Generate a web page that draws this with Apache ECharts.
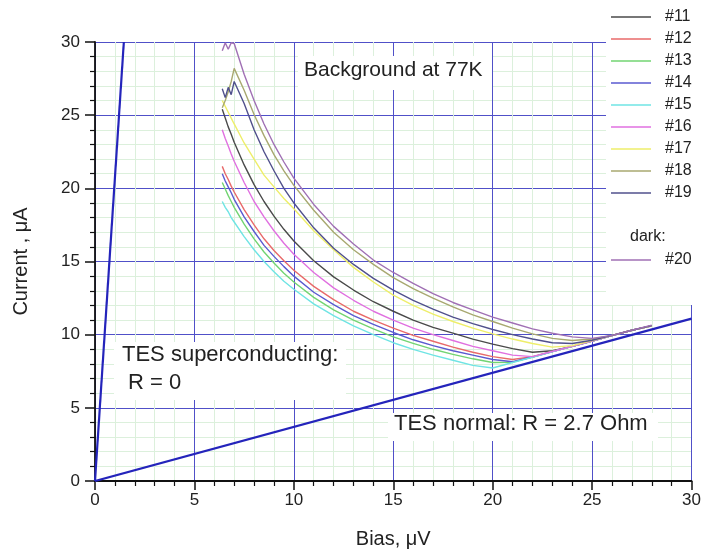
<!DOCTYPE html>
<html>
<head>
<meta charset="utf-8">
<script src="https://cdn.jsdelivr.net/npm/echarts@6/dist/echarts.min.js"></script>
<style>
html,body{margin:0;padding:0;background:#fff;}
#chart{width:704px;height:554px;}
</style>
</head>
<body>
<div id="chart"></div>
<script>
// Bias values (µV) shared by all measured curves
var bias = [6.4, 6.55, 6.7, 6.85, 7.0, 7.5, 8, 8.5, 9, 9.5, 10, 11, 12, 13, 14, 15, 16, 17, 18, 19, 20, 21, 22, 23, 24, 25, 26, 27, 28];

// Current values (µA) per detector
var s11 = [25.4, 24.8, 24.2, 23.7, 23.15, 21.6, 20.25, 19.1, 18.1, 17.2, 16.4, 15.05, 13.95, 13.05, 12.25, 11.6, 11.0, 10.5, 10.1, 9.7, 9.35, 9.05, 8.8, 8.9, 9.2, 9.57, 9.93, 10.3, 10.6];
var s12 = [21.5, 21.0, 20.6, 20.15, 19.75, 18.55, 17.5, 16.55, 15.75, 15.05, 14.4, 13.3, 12.4, 11.6, 11.0, 10.45, 9.95, 9.55, 9.15, 8.8, 8.5, 8.3, 8.5, 8.85, 9.2, 9.57, 9.93, 10.3, 10.6];
var s13 = [20.4, 19.95, 19.5, 19.1, 18.7, 17.55, 16.55, 15.65, 14.9, 14.2, 13.6, 12.55, 11.7, 11.0, 10.4, 9.85, 9.4, 9.0, 8.65, 8.35, 8.1, 8.12, 8.47, 8.84, 9.2, 9.57, 9.93, 10.3, 10.6];
var s14 = [21.0, 20.5, 20.1, 19.7, 19.25, 18.05, 17.05, 16.1, 15.35, 14.65, 14.0, 12.9, 12.05, 11.3, 10.7, 10.15, 9.65, 9.25, 8.9, 8.6, 8.3, 8.15, 8.47, 8.84, 9.2, 9.57, 9.93, 10.3, 10.6];
var s15 = [19.1, 18.7, 18.4, 18.0, 17.7, 16.7, 15.8, 15.0, 14.3, 13.65, 13.1, 12.1, 11.3, 10.6, 10.0, 9.45, 9.0, 8.6, 8.25, 7.9, 7.72, 8.1, 8.46, 8.83, 9.2, 9.57, 9.93, 10.3, 10.6];
var s16 = [24.0, 23.4, 22.9, 22.35, 21.85, 20.4, 19.1, 18.05, 17.1, 16.25, 15.5, 14.25, 13.2, 12.35, 11.6, 11.0, 10.45, 10.0, 9.6, 9.2, 8.9, 8.6, 8.5, 8.85, 9.2, 9.57, 9.93, 10.3, 10.6];
var s17 = [26.0, 25.6, 25.2, 24.8, 24.4, 23.1, 22.0, 20.9, 20.1, 19.3, 18.6, 17.1, 15.8, 14.6, 13.6, 12.7, 12.0, 11.4, 10.9, 10.45, 10.05, 9.7, 9.4, 9.15, 9.25, 9.6, 9.95, 10.3, 10.6];
var s18 = [25.5, 26.0, 26.6, 27.3, 28.2, 26.7, 25.05, 23.6, 22.3, 21.2, 20.2, 18.5, 17.0, 15.8, 14.8, 13.9, 13.15, 12.5, 11.9, 11.35, 10.9, 10.45, 10.05, 9.75, 9.6, 9.7, 9.95, 10.3, 10.62];
var s19 = [26.8, 26.2, 26.9, 26.4, 27.3, 25.8, 24.0, 22.5, 21.2, 20.0, 19.0, 17.3, 15.9, 14.8, 13.85, 13.05, 12.35, 11.75, 11.2, 10.75, 10.35, 10.0, 9.7, 9.45, 9.4, 9.62, 9.95, 10.3, 10.62];
var s20 = [29.4, 29.95, 29.5, 29.95, 29.9, 27.8, 26.0, 24.4, 23.0, 21.8, 20.7, 18.9, 17.4, 16.2, 15.1, 14.25, 13.5, 12.8, 12.2, 11.7, 11.2, 10.8, 10.4, 10.1, 9.85, 9.75, 9.95, 10.3, 10.65];

var names = ['#11', '#12', '#13', '#14', '#15', '#16', '#17', '#18', '#19', '#20'];
var colors = ['#4a4a4a', '#e86a6a', '#72d472', '#5a5ad0', '#6fe4e4', '#e070e0', '#eeee6a', '#a8a870', '#50508c', '#a070b4'];

// Reference lines (Bias µV, Current µA)
var superLine = [[0, 0], [1.45, 30]];
var normalLine = [[0, 0], [30, 11.1]];

// Axis ticks
var xTicks = [0, 5, 10, 15, 20, 25, 30];
var yTicks = [0, 5, 10, 15, 20, 25, 30];

var allData = [s11, s12, s13, s14, s15, s16, s17, s18, s19, s20];

function pairs(ys) {
  return bias.map(function (v, i) { return [v, ys[i]]; });
}

var FONT = 'Liberation Sans, Arial, sans-serif';
var series = [];
series.push({
  type: 'line', data: superLine, symbol: 'none', silent: true, z: 3,
  lineStyle: { color: '#2424bb', width: 2.2 }
});
series.push({
  type: 'line', data: normalLine, symbol: 'none', silent: true, z: 3,
  lineStyle: { color: '#2424bb', width: 2.2 }
});
for (var i = 0; i < names.length; i++) {
  series.push({
    name: names[i], type: 'line', data: pairs(allData[i]), symbol: 'none', showSymbol: false,
    color: colors[i], lineStyle: { color: colors[i], width: 1.4 }, z: 2
  });
}

var legendCommon = {
  orient: 'vertical', left: 611, icon: 'rect',
  itemWidth: 40, itemHeight: 1.6, itemGap: 6, padding: 0, z: 6,
  textStyle: { fontSize: 16, color: '#222', fontFamily: FONT, lineHeight: 16, padding: [0, 0, 0, 9] },
  selectedMode: false
};

var chart = echarts.init(document.getElementById('chart'), null, { renderer: 'canvas' });
chart.setOption({
  animation: false,
  backgroundColor: '#fff',
  grid: { left: 95, right: 9, top: 42, bottom: 71 },
  xAxis: {
    type: 'value', min: xTicks[0], max: xTicks[xTicks.length - 1], interval: 5,
    name: 'Bias, μV', nameLocation: 'middle', nameGap: 48,
    nameTextStyle: { fontSize: 20, color: '#222', fontFamily: FONT },
    axisLine: { show: true, onZero: false, lineStyle: { color: '#111', width: 1.8 } },
    axisTick: { show: true, inside: false, length: 9, lineStyle: { color: '#111', width: 1.5 } },
    minorTick: { show: true, splitNumber: 5, length: 5, lineStyle: { color: '#111', width: 1.2 } },
    axisLabel: { fontSize: 17, color: '#222', margin: 11, fontFamily: FONT },
    splitLine: { show: true, lineStyle: { color: '#5050c8', width: 1 } },
    minorSplitLine: { show: true, lineStyle: { color: '#dcf0dc', width: 1 } }
  },
  yAxis: {
    type: 'value', min: yTicks[0], max: yTicks[yTicks.length - 1], interval: 5,
    name: 'Current , μA', nameLocation: 'middle', nameGap: 64, nameRotate: 90,
    nameTextStyle: { fontSize: 20, color: '#222', fontFamily: FONT },
    axisLine: { show: true, onZero: false, lineStyle: { color: '#111', width: 1.8 } },
    axisTick: { show: true, inside: false, length: 10, lineStyle: { color: '#111', width: 1.5 } },
    minorTick: { show: true, splitNumber: 5, length: 5, lineStyle: { color: '#111', width: 1.2 } },
    axisLabel: { fontSize: 17, color: '#222', margin: 15, fontFamily: FONT },
    splitLine: { show: true, lineStyle: { color: '#5050c8', width: 1 } },
    minorSplitLine: { show: true, lineStyle: { color: '#dcf0dc', width: 1 } }
  },
  legend: [
    Object.assign({}, legendCommon, { data: names.slice(0, 9), top: 9 }),
    Object.assign({}, legendCommon, { data: [names[9]], top: 252 })
  ],
  graphic: [
    { type: 'rect', z: 5, shape: { x: 606, y: 0, width: 98, height: 305 }, style: { fill: '#fff' } },
    { type: 'text', z: 6, left: 630, top: 229, style: { text: 'dark:', font: '16px ' + FONT, fill: '#222' } },
    { type: 'rect', z: 5, shape: { x: 298, y: 56, width: 194, height: 34 }, style: { fill: '#fff' } },
    { type: 'text', z: 6, left: 304, top: 60, style: { text: 'Background at 77K', font: '21px ' + FONT, fill: '#222' } },
    { type: 'rect', z: 5, shape: { x: 114, y: 342, width: 232, height: 58 }, style: { fill: '#fff' } },
    { type: 'text', z: 6, left: 122, top: 344, style: { text: 'TES superconducting:', font: '22px ' + FONT, fill: '#222' } },
    { type: 'text', z: 6, left: 128, top: 372, style: { text: 'R = 0', font: '22px ' + FONT, fill: '#222' } },
    { type: 'rect', z: 5, shape: { x: 388, y: 413, width: 270, height: 28 }, style: { fill: '#fff' } },
    { type: 'text', z: 6, left: 394, top: 413, style: { text: 'TES normal: R = 2.7 Ohm', font: '22px ' + FONT, fill: '#222' } }
  ],
  series: series
});
</script>
</body>
</html>
